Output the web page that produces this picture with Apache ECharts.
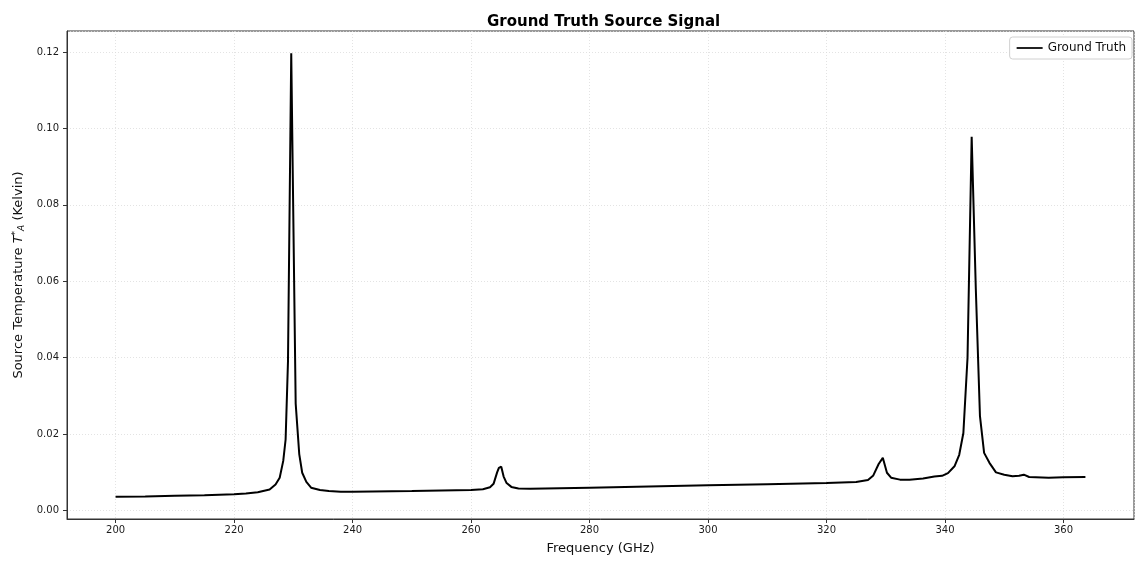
<!DOCTYPE html>
<html>
<head>
<meta charset="utf-8">
<script src="https://cdn.jsdelivr.net/npm/echarts@6/dist/echarts.min.js"></script>
<style>
html,body{margin:0;padding:0;background:#fff;}
#chart{width:1135px;height:562px;}
</style>
</head>
<body>
<div id="chart"></div>
<script>
const frequencyGHz = [200,205,210,215,220,222,224,226.0,227.0,227.7,228.3,228.7,229.1,229.65,230.4,231.0,231.5,232.2,233.0,234.5,236,238,240,250,260,262,263.2,263.8,264.4,264.7,265.1,265.5,266.0,266.8,268,270,280,290,300,310,320,325,327.0,327.9,328.8,329.5,330.2,330.9,332.4,334,336.3,338.2,339.5,340.5,341.6,342.4,343.1,343.8,344.5,345.2,345.9,346.6,347.5,348.6,350,351.4,352.5,353.3,354.2,357.5,360,363.7];
const groundTruth = [0.0036,0.0037,0.0039,0.0040,0.0043,0.0045,0.0048,0.0055,0.0068,0.0086,0.0130,0.0186,0.0390,0.1197,0.0280,0.0148,0.0099,0.0075,0.0060,0.0054,0.0051,0.0049,0.0049,0.0051,0.0054,0.0056,0.0061,0.0070,0.0100,0.0112,0.0115,0.0089,0.0072,0.0062,0.0058,0.0057,0.0060,0.0063,0.0066,0.0069,0.0072,0.0075,0.0080,0.0092,0.0122,0.0138,0.0099,0.0086,0.0081,0.0081,0.0084,0.0089,0.0091,0.0098,0.0116,0.0146,0.0203,0.0400,0.0978,0.0580,0.0247,0.0151,0.0125,0.0100,0.0094,0.0090,0.0091,0.0094,0.0088,0.0086,0.0087,0.0088];
const xRange = [191.8, 371.9];
const yRange = [-0.0022, 0.1255];

const font = 'DejaVu Sans';
const chart = echarts.init(document.getElementById('chart'));
chart.setOption({
  animation: false,
  backgroundColor: '#fff',
  textStyle: {fontFamily: font},
  title: {
    text: 'Ground Truth Source Signal',
    left: 482, top: 10,
    textStyle: {fontFamily: font, fontSize: 15, fontWeight: 'bold', color: '#000'}
  },
  legend: {
    right: 3, top: 37,
    data: [{name: 'Ground Truth', icon: 'path://M0,0L30,0L30,2L0,2Z'}],
    itemWidth: 26, itemHeight: 2, itemGap: 6,
    padding: [5, 6, 5, 7],
    borderColor: '#d0d0d0', borderWidth: 1, borderRadius: 3,
    backgroundColor: '#fff',
    textStyle: {fontFamily: font, fontSize: 12, color: '#111'}
  },
  grid: {
    left: 67, right: 1, top: 31, bottom: 43,
    outerBoundsMode: 'none', containLabel: false,
    show: true, borderColor: '#333', borderWidth: 1, backgroundColor: 'transparent'
  },
  xAxis: {
    type: 'value', min: xRange[0], max: xRange[1], splitNumber: 9,
    name: 'Frequency (GHz)', nameLocation: 'middle', nameGap: 23,
    nameTextStyle: {fontFamily: font, fontSize: 13, color: '#111'},
    axisLine: {show: true, onZero: false, lineStyle: {color: '#333'}},
    axisTick: {show: true, length: 4, lineStyle: {color: '#333'}},
    axisLabel: {fontFamily: font, fontSize: 10, color: '#1a1a1a', margin: 6, showMinLabel: false, showMaxLabel: false},
    splitLine: {show: true, lineStyle: {color: '#dcdcdc', type: [1, 2], width: 0.8}}
  },
  yAxis: {
    type: 'value', min: yRange[0], max: yRange[1], splitNumber: 6,
    name: 'Source Temperature {it|T}{sup|*}{sub|A} (Kelvin)', nameLocation: 'middle', nameGap: 35,
    nameTextStyle: {
      fontFamily: font, fontSize: 13, color: '#111',
      rich: {
        it: {fontFamily: font, fontSize: 13, fontStyle: 'italic', color: '#111'},
        sup: {fontFamily: font, fontSize: 9, color: '#111', verticalAlign: 'top', padding: [0,0,6,0]},
        sub: {fontFamily: font, fontSize: 9, fontStyle: 'italic', color: '#111', verticalAlign: 'bottom', padding: [4,0,0,0]}
      }
    },
    axisLine: {show: true, onZero: false, lineStyle: {color: '#333'}},
    axisTick: {show: true, length: 4, lineStyle: {color: '#333'}},
    axisLabel: {fontFamily: font, fontSize: 10, color: '#1a1a1a', margin: 8, showMinLabel: false, showMaxLabel: false,
      formatter: v => v.toFixed(2)},
    splitLine: {show: true, lineStyle: {color: '#dcdcdc', type: [1, 2], width: 0.8}}
  },
  series: [{
    name: 'Ground Truth', type: 'line',
    data: frequencyGHz.map((f, i) => [f, groundTruth[i]]),
    showSymbol: false, symbol: 'none',
    lineStyle: {color: '#000', width: 2},
    itemStyle: {color: '#000'}
  }]
});
</script>
</body>
</html>
